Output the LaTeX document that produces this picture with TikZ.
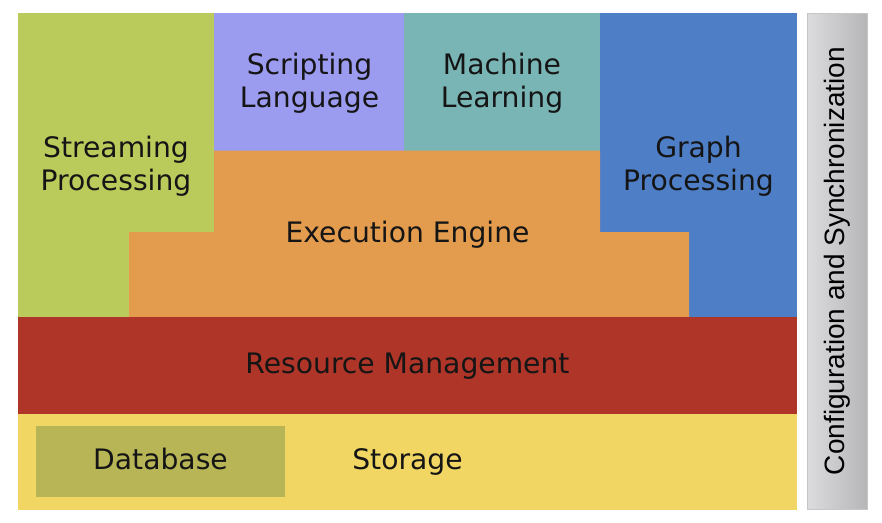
\documentclass[tikz,border=0pt]{standalone}
\usepackage{fontspec}
\setmainfont{DejaVu Sans}
\newfontfamily\cfgfont{Liberation Sans}
\definecolor{cgreen}{HTML}{BBCB5B}
\definecolor{cpurple}{HTML}{9B9BEF}
\definecolor{cteal}{HTML}{7AB5B5}
\definecolor{cblue}{HTML}{4D7EC6}
\definecolor{corange}{HTML}{E39C4E}
\definecolor{cred}{HTML}{AE3528}
\definecolor{cyellow}{HTML}{F2D663}
\definecolor{colive}{HTML}{B8B556}
\definecolor{cgrayL}{HTML}{DCDCDE}
\definecolor{cgrayR}{HTML}{B6B6B8}
\definecolor{ctext}{HTML}{151515}
\begin{document}
\begin{tikzpicture}[x=1pt,y=-1pt,
  lbl/.style={text=ctext,align=center,font=\fontsize{28.2}{33}\selectfont,inner sep=0pt},
  lbase/.style={lbl,anchor=base}]
\useasboundingbox (0,0) rectangle (882,522);
\fill[white] (0,0) rectangle (882,522);
% blocks
\fill[cgreen] (17.5,13) rectangle (214,317);
\fill[cpurple] (214,13) rectangle (404,150.5);
\fill[cteal] (404,13) rectangle (600,150.5);
\fill[cblue] (600,13) rectangle (797,317);
\fill[corange] (214,150.5) -- (600,150.5) -- (600,232) -- (689,232) -- (689,317) -- (129,317) -- (129,232) -- (214,232) -- cycle;
\fill[cred] (17.5,317) rectangle (797,414);
\fill[cyellow] (17.5,414) rectangle (797,509.5);
\fill[colive] (36,426) rectangle (285,497);
\shade[left color=cgrayL,right color=cgrayR,draw=gray!45,line width=0.6pt] (807,13) rectangle (867,509.5);
% labels
\node[lbl] (stream) at (116,166) {Streaming\\Processing};
\node[lbl] (script) at (309.5,83) {Scripting\\Language};
\node[lbl] (ml) at (502,83) {Machine\\Learning};
\node[lbl] (graph) at (698.5,166) {Graph\\Processing};
\node[lbase] (exec) at (407.5,242) {Execution Engine};
\node[lbase] (res) at (407.5,373) {Resource Management};
\node[lbase] (db) at (160.5,469.5) {Database};
\node[lbase] (stor) at (407.5,469.5) {Storage};
\node[text=black,font=\cfgfont\fontsize{28}{33}\selectfont,rotate=90,inner sep=0pt] (cfg) at (837.5,261) {Configuration and Synchronization};
\end{tikzpicture}
\end{document}
